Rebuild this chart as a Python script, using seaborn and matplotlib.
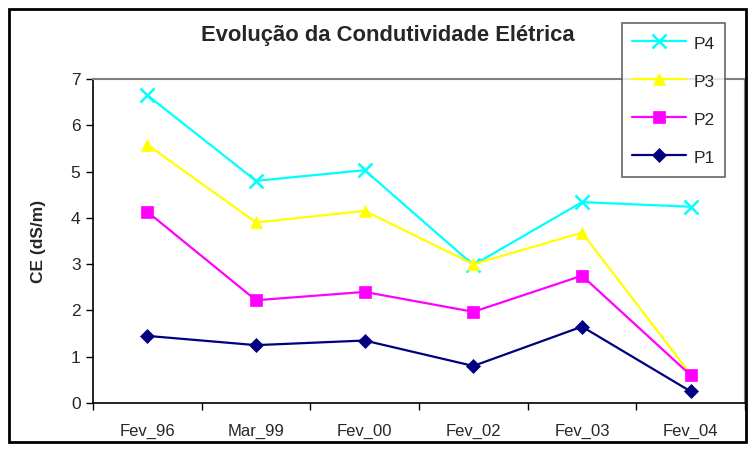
"""
Line chart: evolution of electrical conductivity (CE) per point
"""

import numpy as np
import pandas as pd
import seaborn as sns
import matplotlib.pyplot as plt
from matplotlib.patches import Rectangle

periods = ['Fev_96', 'Mar_99', 'Fev_00', 'Fev_02', 'Fev_03', 'Fev_04']
p4 = [6.65, 4.80, 5.03, 2.98, 4.34, 4.24]
p3 = [5.58, 3.90, 4.15, 3.00, 3.68, 0.62]
p2 = [4.13, 2.22, 2.40, 1.97, 2.75, 0.60]
p1 = [1.45, 1.25, 1.35, 0.80, 1.65, 0.25]

series = {'P4': p4, 'P3': p3, 'P2': p2, 'P1': p1}
colors = {'P4': '#00FFFF', 'P3': '#FFFF00', 'P2': '#FF00FF', 'P1': '#000080'}
markers = {'P4': 'x', 'P3': '^', 'P2': 's', 'P1': 'D'}
msizes = {'P4': 10, 'P3': 9, 'P2': 8, 'P1': 7}


def plot():
    sns.set_style('white')
    plt.rcParams['font.family'] = ['Liberation Sans', 'DejaVu Sans']

    fig = plt.figure(figsize=(7.49, 4.5), dpi=100)
    ax = fig.add_axes([93 / 749, 1 - 403 / 450, (745 - 93) / 749, (403 - 79) / 450])

    pos = np.arange(len(periods))
    for name, vals in series.items():
        df = pd.DataFrame({'x': pos, 'y': vals})
        sns.lineplot(data=df, x='x', y='y', ax=ax, color=colors[name],
                     marker=markers[name], markersize=msizes[name],
                     markeredgecolor=colors[name],
                     markeredgewidth=1.8 if name == 'P4' else 0.5,
                     linewidth=1.6, label=name)

    ax.set_xlim(-0.5, len(periods) - 0.5)
    ax.set_ylim(0, 7)
    ax.set_yticks(range(0, 8))
    ax.set_xticks(pos)
    ax.set_xticklabels(periods)
    ax.set_xticks(np.arange(-0.5, len(periods), 1), minor=True)
    ax.tick_params(axis='x', which='major', length=0, labelsize=12, pad=15)
    ax.tick_params(axis='x', which='minor', length=5, width=1, color='black',
                   direction='out', bottom=True)
    ax.tick_params(axis='y', length=5, width=1, color='black', direction='out',
                   left=True, labelsize=12.5, pad=4)
    ax.set_xlabel('')
    ax.set_ylabel('CE (dS/m)', fontsize=12.5, fontweight='bold', labelpad=18)

    for side in ['left', 'bottom']:
        ax.spines[side].set_color('black')
        ax.spines[side].set_linewidth(1.2)
    for side in ['top', 'right']:
        ax.spines[side].set_color('#808080')
        ax.spines[side].set_linewidth(1.5)

    ax.legend_.remove()
    handles, labels = ax.get_legend_handles_labels()
    leg = fig.legend(handles, labels, loc='upper left',
                     bbox_to_anchor=(622 / 749, 1 - 23 / 450),
                     bbox_transform=fig.transFigure, fontsize=12.5,
                     frameon=True, fancybox=False, shadow=False,
                     handlelength=3.1, handleheight=1.3, labelspacing=1.1,
                     handletextpad=0.4, borderpad=0.6, borderaxespad=0)
    leg.get_frame().set_edgecolor('#404040')
    leg.get_frame().set_linewidth(1.2)

    fig.text(388 / 749, 1 - 35 / 450, 'Evolução da Condutividade Elétrica',
             ha='center', va='center', fontsize=15.8, fontweight='bold')

    fig.patches.append(Rectangle((9 / 749, 1 - 442 / 450), 737 / 749, 433 / 450,
                                 transform=fig.transFigure, fill=False,
                                 edgecolor='black', linewidth=2))

    plt.savefig('out.png', dpi=100)


if __name__ == "__main__":
    plot()
